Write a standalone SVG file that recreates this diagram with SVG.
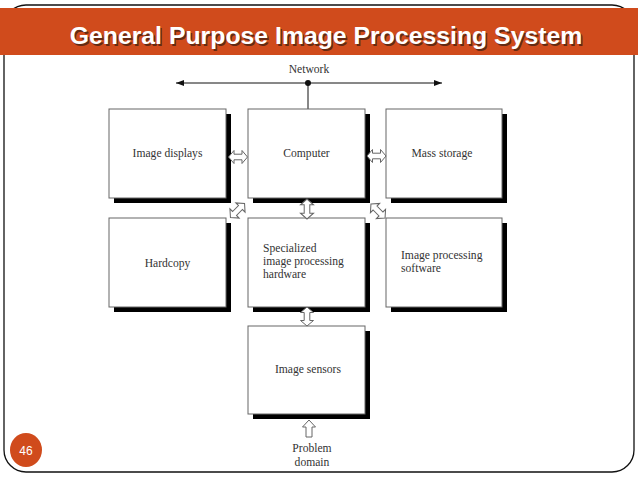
<svg xmlns="http://www.w3.org/2000/svg" width="638" height="479" viewBox="0 0 638 479">
<defs>
<style>
.box{fill:#fff;stroke:#666;stroke-width:1}
.shadow{fill:#000}
.lbl{font-family:"Liberation Serif","Times New Roman",serif;font-size:11.6px;fill:#333}
.arr{fill:#fff;stroke:#666;stroke-width:1;stroke-linejoin:miter}
.title{font-family:"Liberation Sans",Arial,sans-serif;font-weight:bold;font-size:24.8px;fill:#fff}
</style>
<path id="dbl" d="M-9.5,0 L-4,-6.5 L-4,-2.8 L4,-2.8 L4,-6.5 L9.5,0 L4,6.5 L4,2.8 L-4,2.8 L-4,6.5 Z"/>
<marker id="ah" viewBox="0 0 8 6" refX="8" refY="3" markerWidth="8" markerHeight="6" markerUnits="userSpaceOnUse" orient="auto-start-reverse">
<path d="M0,0 L8,3 L0,6 Z" fill="#111"/>
</marker>
</defs>
<rect width="638" height="479" fill="#fff"/>
<rect x="4" y="5" width="630" height="467" rx="22" ry="22" fill="none" stroke="#111" stroke-width="1.3"/>
<rect x="0" y="8" width="638" height="47" fill="#d04b1c"/>
<text class="title" x="327.5" y="45.5" text-anchor="middle" style="fill:#4a2212;opacity:0.8">General Purpose Image Processing System</text>
<text class="title" x="326" y="44" text-anchor="middle">General Purpose Image Processing System</text>

<g id="network">
<text class="lbl" x="309" y="73" text-anchor="middle">Network</text>
</g>

<g id="connectors">
<line x1="176" y1="83" x2="442" y2="83" stroke="#111" stroke-width="1" marker-start="url(#ah)" marker-end="url(#ah)"/>
<circle cx="308" cy="83" r="3" fill="#111"/>
<line x1="308" y1="83" x2="308" y2="109" stroke="#111" stroke-width="1"/>
</g>

<g id="image-displays">
<rect class="shadow" x="114" y="114" width="117" height="89"/>
<rect class="box" x="109" y="109" width="117" height="89"/>
<text class="lbl" x="167.5" y="157" text-anchor="middle">Image displays</text>
</g>
<g id="computer">
<rect class="shadow" x="253" y="114" width="117" height="89"/>
<rect class="box" x="248" y="109" width="117" height="89"/>
<text class="lbl" x="306.5" y="157" text-anchor="middle">Computer</text>
</g>
<g id="mass-storage">
<rect class="shadow" x="391" y="114" width="116" height="89"/>
<rect class="box" x="386" y="109" width="116" height="89"/>
<text class="lbl" x="442" y="157" text-anchor="middle">Mass storage</text>
</g>
<g id="hardcopy">
<rect class="shadow" x="114" y="223" width="117" height="89"/>
<rect class="box" x="109" y="218" width="117" height="89"/>
<text class="lbl" x="167.5" y="267" text-anchor="middle">Hardcopy</text>
</g>
<g id="specialized-hardware">
<rect class="shadow" x="253" y="223" width="117" height="89"/>
<rect class="box" x="248" y="218" width="117" height="89"/>
<text class="lbl" x="263" y="252">Specialized</text>
<text class="lbl" x="263" y="265">image processing</text>
<text class="lbl" x="263" y="278">hardware</text>
</g>
<g id="image-processing-software">
<rect class="shadow" x="391" y="223" width="116" height="89"/>
<rect class="box" x="386" y="218" width="116" height="89"/>
<text class="lbl" x="401" y="259">Image processing</text>
<text class="lbl" x="401" y="272">software</text>
</g>
<g id="image-sensors">
<rect class="shadow" x="253" y="331" width="117" height="88"/>
<rect class="box" x="248" y="326" width="117" height="88"/>
<text class="lbl" x="308" y="373" text-anchor="middle">Image sensors</text>
</g>

<g id="block-arrows">
<use href="#dbl" class="arr" transform="translate(238,157)"/>
<use href="#dbl" class="arr" transform="translate(376.5,156)"/>
<use href="#dbl" class="arr" transform="translate(307,209) rotate(90) scale(1.05,1)"/>
<use href="#dbl" class="arr" transform="translate(307,316.5) rotate(90)"/>
<use href="#dbl" class="arr" transform="translate(237.5,210.5) rotate(-45) scale(1.05,1)"/>
<use href="#dbl" class="arr" transform="translate(378,211) rotate(45) scale(1.05,1)"/>
<path class="arr" d="M309,420 L315.5,427 L312,427 L312,437 L306,437 L306,427 L302.5,427 Z"/>
</g>

<g id="problem-domain">
<text class="lbl" x="312" y="452" text-anchor="middle">Problem</text>
<text class="lbl" x="312" y="466" text-anchor="middle">domain</text>
</g>

<g id="slide-number">
<ellipse cx="26" cy="450" rx="16" ry="17" fill="#d04b1c"/>
<text x="26" y="454.5" text-anchor="middle" font-family="Liberation Sans, Arial, sans-serif" font-size="12" fill="#fff">46</text>
</g>
</svg>
